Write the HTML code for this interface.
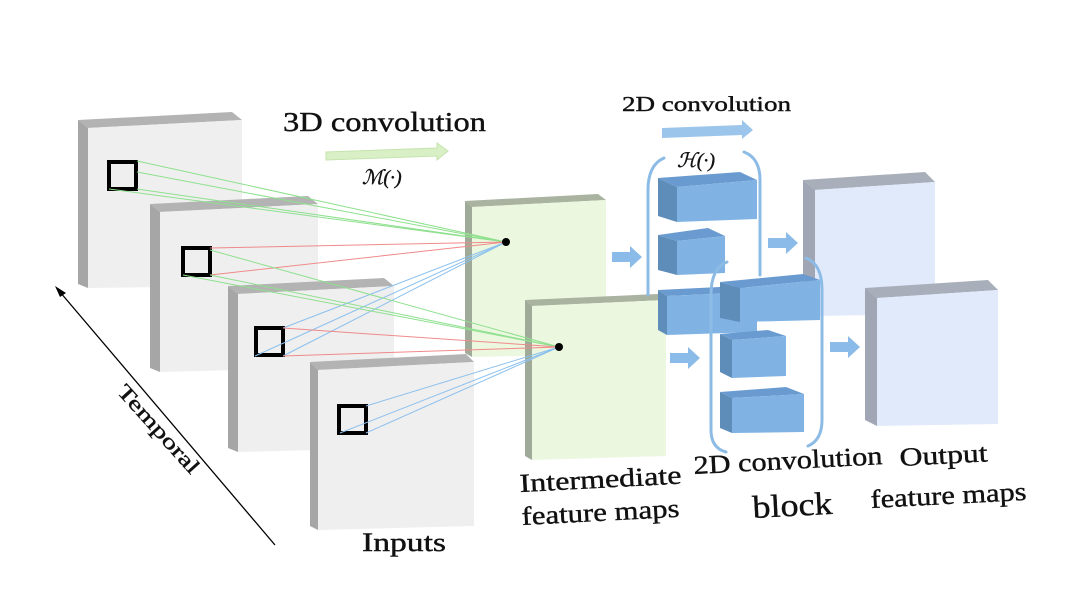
<!DOCTYPE html>
<html><head><meta charset="utf-8"><style>
html,body{margin:0;padding:0;background:#fff;}
svg{display:block;}
text{font-family:"Liberation Serif",serif;fill:#111;stroke:#111;stroke-width:0.4;}
</style></head><body>
<svg width="1080" height="595" viewBox="0 0 1080 595" xmlns="http://www.w3.org/2000/svg">
<defs>
<g id="arr"><polygon points="0,-5 18,-5 18,-11 30,0 18,11 18,5 0,5" fill="#8bbbe8"/></g>
</defs>
<!-- Input planes -->
<g>
<polygon points="88,128 242,120 232,112 78,120" fill="#b3b3b3"/>
<polygon points="88,128 88,288 78,284 78,120" fill="#a6a6a6"/>
<polygon points="88,128 242,120 242,286 88,288" fill="#efefef"/>
<rect x="109" y="162" width="27" height="27" fill="none" stroke="#000" stroke-width="4"/>

<polygon points="160,212 318,204 308,196 150,204" fill="#b3b3b3"/>
<polygon points="160,212 160,372 150,368 150,204" fill="#a6a6a6"/>
<polygon points="160,212 318,204 318,368 160,372" fill="#efefef"/>
<rect x="183" y="248" width="27" height="27" fill="none" stroke="#000" stroke-width="4"/>

<polygon points="238,294 394,286 384,278 228,286" fill="#b3b3b3"/>
<polygon points="238,294 238,452 228,448 228,286" fill="#a6a6a6"/>
<polygon points="238,294 394,286 394,448 238,452" fill="#efefef"/>
<rect x="256" y="328" width="27" height="27" fill="none" stroke="#000" stroke-width="4"/>

<polygon points="318,370 474,362 466,354 310,362" fill="#b3b3b3"/>
<polygon points="318,370 318,530 310,526 310,362" fill="#a6a6a6"/>
<polygon points="318,370 474,362 474,526 318,530" fill="#efefef"/>
<rect x="339" y="406" width="27" height="27" fill="none" stroke="#000" stroke-width="4"/>
</g>
<!-- Green feature plane A -->
<polygon points="472,207 606,200 598,194 465,201" fill="#a9b3a0"/>
<polygon points="472,207 472,357 465,353 465,201" fill="#a0aa98"/>
<polygon points="472,207 606,200 606,354 472,357" fill="#ebf7df"/>
<g stroke-width="1" fill="none">
<g stroke="#8ee08e"><line x1="137" y1="161" x2="506" y2="242"/><line x1="137" y1="189" x2="506" y2="242"/><line x1="109" y1="189" x2="506" y2="242"/><line x1="137" y1="172" x2="506" y2="242"/></g>
<g stroke="#f08a8a"><line x1="210" y1="248" x2="506" y2="242"/><line x1="210" y1="275" x2="506" y2="242"/></g>
<g stroke="#8cc0ee"><line x1="255" y1="356" x2="506" y2="242"/><line x1="283" y1="356" x2="506" y2="242"/><line x1="283" y1="328" x2="506" y2="242"/></g>
</g>
<polygon points="532,306 666,300 658,294 525,300" fill="#a9b3a0"/>
<polygon points="532,306 532,460 525,456 525,300" fill="#a0aa98"/>
<polygon points="532,306 666,300 666,456 532,460" fill="#ebf7df"/>
<g stroke-width="1" fill="none">
<g stroke="#8ee08e"><line x1="210" y1="250" x2="559" y2="347"/><line x1="210" y1="275" x2="559" y2="347"/><line x1="183" y1="275" x2="559" y2="347"/></g>
<g stroke="#f08a8a"><line x1="283" y1="328" x2="559" y2="347"/><line x1="283" y1="356" x2="559" y2="347"/></g>
<g stroke="#8cc0ee"><line x1="366" y1="406" x2="559" y2="347"/><line x1="366" y1="433" x2="559" y2="347"/><line x1="340" y1="433" x2="559" y2="347"/></g>
</g>
<circle cx="506" cy="242" r="4" fill="#000"/>
<circle cx="559" cy="347" r="4" fill="#000"/>

<!-- Top labels -->
<text x="283" y="131" font-size="27" textLength="203" lengthAdjust="spacingAndGlyphs">3D convolution</text>
<polygon points="326,152 437,148 437,143 448,151 437,160 437,156 326,160" fill="#d9f0c6" stroke="#c5e3ae"/>
<text x="362" y="184" font-size="20" font-style="italic" stroke-width="0">ℳ(·)</text>
<text x="622" y="111" font-size="21" textLength="169" lengthAdjust="spacingAndGlyphs">2D convolution</text>
<polygon points="662,128 742,125 742,120 753,130 742,139 742,135 662,138" fill="#9cc5ec"/>
<text x="677" y="167" font-size="20" font-style="italic" stroke-width="0">ℋ(·)</text>

<!-- Output plane A -->
<polygon points="815,190 935,182 925,172 803,180" fill="#a8aeba"/>
<polygon points="815,190 815,316 803,310 803,180" fill="#a0a6b3"/>
<polygon points="815,190 935,182 935,314 815,316" fill="#e1eafb"/>

<!-- Block column 1 -->
<g stroke="#8cbbe6" stroke-width="3" fill="none" stroke-linecap="round">
<path d="M664,158 Q648,165 648,190 L648,295"/>
<path d="M744,152 Q760,158 760,180 L760,275"/>
</g>
<g>
<polygon points="658,178 677,187 677,222 658,216" fill="#5f8dba"/><polygon points="658,178 740,172 757,180 677,187" fill="#6a9bd0"/><polygon points="677,187 757,180 757,219 677,222" fill="#80b3e4"/>
<polygon points="658,235 677,241 677,275 658,270" fill="#5f8dba"/><polygon points="658,235 708,228 725,236 677,241" fill="#6a9bd0"/><polygon points="677,241 725,236 725,273 677,275" fill="#80b3e4"/>
<polygon points="658,290 667,296 667,335 658,330" fill="#5f8dba"/><polygon points="658,290 740,286 757,292 667,296" fill="#6a9bd0"/><polygon points="667,296 757,292 757,332 667,335" fill="#80b3e4"/>
</g>
<use href="#arr" x="612" y="257"/>
<use href="#arr" x="768" y="243"/>
<!-- Output B -->
<polygon points="877,298 998,290 988,280 865,288" fill="#a8aeba"/>
<polygon points="877,298 877,426 865,420 865,288" fill="#a0a6b3"/>
<polygon points="877,298 998,290 998,424 877,426" fill="#e1eafb"/>
<!-- Block column 2 -->
<g stroke="#8cbbe6" stroke-width="3" fill="none" stroke-linecap="round">
<path d="M727,262 Q711,268 711,295 L711,430 Q711,448 726,452"/>
<path d="M806,258 Q822,264 822,290 L822,420 Q822,440 808,446"/>
</g>
<g>
<polygon points="720,282 740,288 740,322 720,318" fill="#5f8dba"/><polygon points="720,282 803,274 820,280 740,288" fill="#6a9bd0"/><polygon points="740,288 820,280 820,320 740,322" fill="#80b3e4"/>
<polygon points="720,334 732,340 732,378 720,372" fill="#5f8dba"/><polygon points="720,334 768,330 786,336 732,340" fill="#6a9bd0"/><polygon points="732,340 786,336 786,376 732,378" fill="#80b3e4"/>
<polygon points="720,392 732,398 732,433 720,428" fill="#5f8dba"/><polygon points="720,392 786,387 804,394 732,398" fill="#6a9bd0"/><polygon points="732,398 804,394 804,432 732,433" fill="#80b3e4"/>
</g>
<use href="#arr" x="670" y="358"/>
<use href="#arr" x="830" y="347"/>

<!-- Bottom labels -->
<text x="520" y="492" font-size="26" transform="rotate(-3 520 492)" textLength="162" lengthAdjust="spacingAndGlyphs">Intermediate</text>
<text x="522" y="525" font-size="26" transform="rotate(-3 522 525)" textLength="158" lengthAdjust="spacingAndGlyphs">feature maps</text>
<text x="694" y="474" font-size="26" transform="rotate(-3 694 474)" textLength="189" lengthAdjust="spacingAndGlyphs">2D convolution</text>
<text x="753" y="518" font-size="32" transform="rotate(-3 753 518)" textLength="80" lengthAdjust="spacingAndGlyphs">block</text>
<text x="900" y="466" font-size="26" transform="rotate(-3 900 466)" textLength="88" lengthAdjust="spacingAndGlyphs">Output</text>
<text x="871" y="508" font-size="26" transform="rotate(-3 871 508)" textLength="156" lengthAdjust="spacingAndGlyphs">feature maps</text>
<text x="362" y="551" font-size="26" textLength="84" lengthAdjust="spacingAndGlyphs">Inputs</text>

<!-- Temporal -->
<line x1="275" y1="545" x2="60" y2="292" stroke="#000" stroke-width="1.3"/>
<polygon points="55,286 66,293 60,297" fill="#000"/>
<text x="116" y="392" font-size="21" transform="rotate(48 116 392)" textLength="112" lengthAdjust="spacingAndGlyphs">Temporal</text>
</svg>
</body></html>
